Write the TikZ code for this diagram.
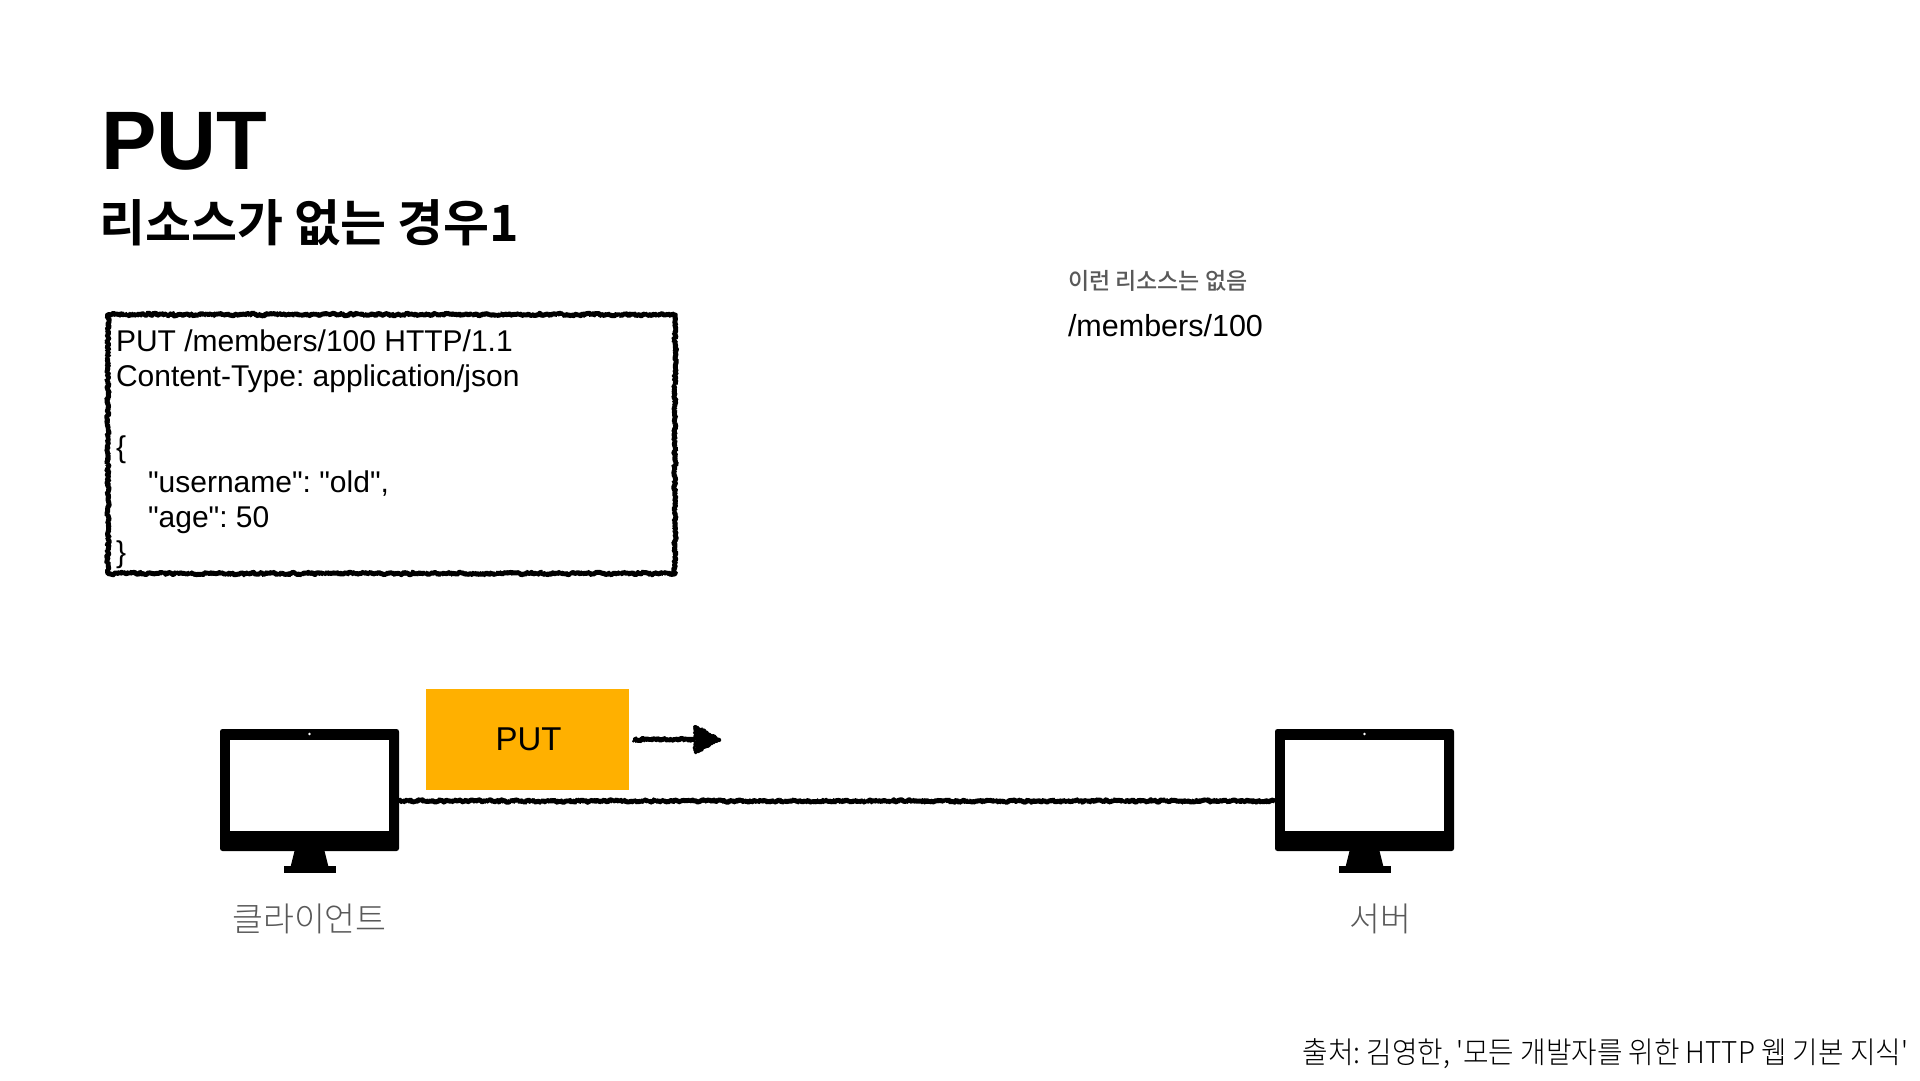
\documentclass[tikz,border=0pt]{standalone}
\usepackage{fontspec}
\usetikzlibrary{decorations.pathmorphing,arrows.meta}
\newfontfamily\latinf{Liberation Sans}
\newfontfamily\krmed{Noto Sans CJK KR Medium}
\newfontfamily\krbold{Noto Sans CJK KR Bold}
\newfontfamily\krlight{Noto Sans CJK KR Light}
\definecolor{labelgray}{HTML}{595959}
\definecolor{putorange}{HTML}{FFB000}
\frenchspacing
\pgfmathsetseed{42}
\tikzset{
  x=1pt,y=-1pt,
  rough/.style={decorate,decoration={random steps,segment length=1.1pt,amplitude=1.3pt},line width=#1,line join=bevel,black},
  monitorslot/.style={minimum width=179pt,minimum height=144pt,inner sep=0pt,outer sep=0pt},
  txt/.style={inner sep=0pt,outer sep=0pt},
  pics/desktop/.style={code={
    \fill[black,rounded corners=2.5pt] (-89.5,-72) rectangle (89.5,50);
    \fill[white] (-79.5,-61) rectangle (79.5,30);
    \fill[white] (0,-67) circle (1.3);
    \fill[black] (-15,50) -- (15,50) -- (19,66) -- (-19,66) -- cycle;
    \fill[black] (-26,65) rectangle (26,72);
  }}
}
\begin{document}
\begin{tikzpicture}
\useasboundingbox (0,0) rectangle (1920,1080);
\fill[white] (0,0) rectangle (1920,1080);

\node[txt,anchor=base west] (title) at (101,169) {\fontsize{83}{83}\selectfont\latinf\bfseries PUT};
\node[txt,anchor=base west] (subtitle) at (99,241) {\fontsize{50}{50}\selectfont\krbold 리소스가 없는 경우1};

\node[draw=none,anchor=north west,txt,minimum width=567pt,minimum height=259pt] (reqbox) at (108,314.5) {};
\draw[rough=5pt] (reqbox.north west) rectangle (reqbox.south east);
\node[txt,anchor=north west,align=left,font=\fontsize{30}{35.2}\selectfont\latinf] (reqtext) at (116,330) {%
PUT /members/100 HTTP/1.1\\
Content-Type: application/json\\
\mbox{}\\
\{\\
\hspace*{32pt}"username": "old",\\
\hspace*{32pt}"age": 50\\
\}};

\node[txt,anchor=base west,text=labelgray] (note) at (1068,289) {\fontsize{23}{23}\selectfont\krmed 이런 리소스는 없음};
\node[txt,anchor=base west] (path) at (1068,336) {\fontsize{30.5}{30.5}\selectfont\latinf /members/100};

\node[monitorslot] (client) at (309.5,801) {};
\node[monitorslot] (server) at (1364.5,801) {};
\pic at (client.center) {desktop};
\pic at (server.center) {desktop};
\draw[rough=5pt] (client.east) -- (server.west);

\node[fill=putorange,txt,minimum width=203pt,minimum height=101pt,font=\fontsize{33}{33}\selectfont\latinf] (putbox) at (527.5,739.5) {\raisebox{-1pt}{\hspace*{2pt}PUT}};
\coordinate (arrowend) at (720,739.5);
\coordinate (arrowbase) at (695,739.5);
\draw[rough=5pt] ([xshift=4pt]putbox.east) -- (arrowbase);
\draw[-{Triangle[length=24pt,width=28pt]},black,line width=0.1pt] (arrowbase) -- (arrowend);
\draw[rough=2.5pt] (695,726) -- (720,739.5) -- (695,753) -- cycle;

\node[txt,text=labelgray] (clientlabel) at (309.5,919) {\fontsize{33.6}{33.6}\selectfont\krlight 클라이언트};
\node[txt,text=labelgray] (serverlabel) at (1380,919) {\fontsize{33.6}{33.6}\selectfont\krlight 서버};

\node[txt,anchor=base east] (credit) at (1908,1063) {\scalebox{.925}[1]{\fontsize{30}{30}\selectfont\krlight 출처: 김영한, '모든 개발자를 위한 HTTP 웹 기본 지식'}};
\end{tikzpicture}
\end{document}
